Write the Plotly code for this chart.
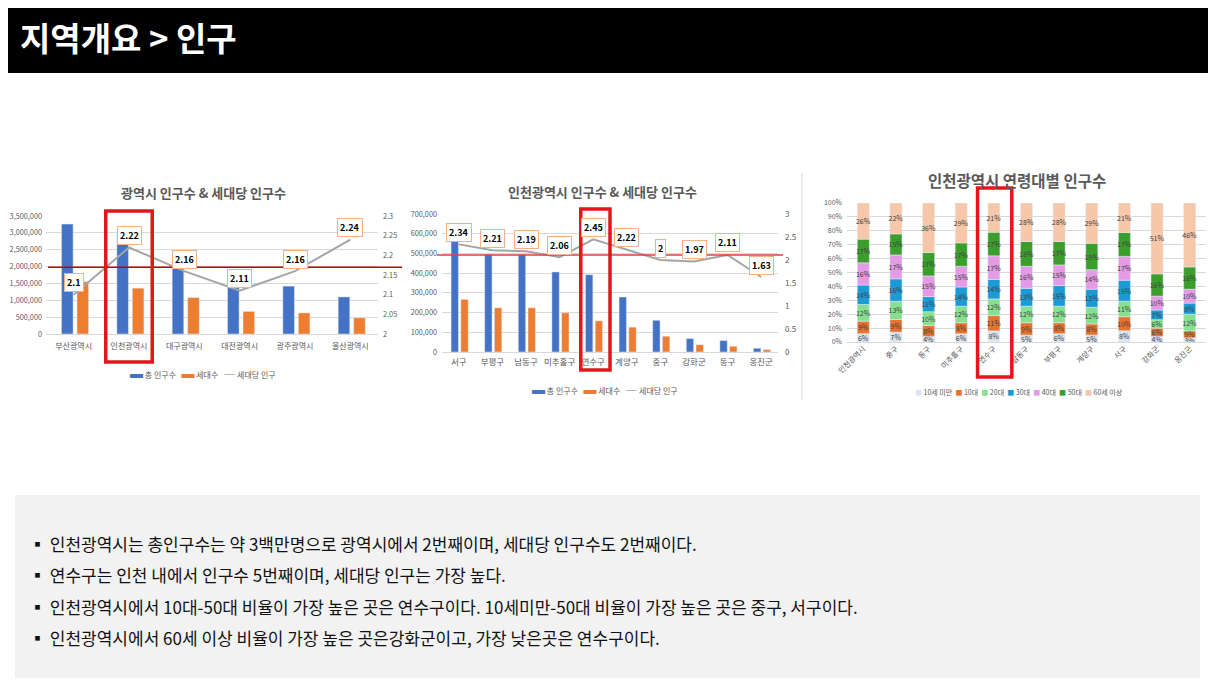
import numpy as np
import plotly.graph_objects as go

# 페이지 기본 여백(8px)을 감안해 그림 크기를 맞춤
PAGE_PAD = 8
W, H = 1216 - PAGE_PAD, 684 - PAGE_PAD
FONT = "Noto Sans CJK KR"

# 광역시 인구수 & 세대당 인구수
metro_names = ["부산광역시", "인천광역시", "대구광역시", "대전광역시", "광주광역시", "울산광역시"]
metro_pop = [3260000, 2990000, 2350000, 1480000, 1420000, 1100000]
metro_hh = [1550000, 1360000, 1080000, 670000, 625000, 480000]
metro_pph = [2.1, 2.22, 2.16, 2.11, 2.16, 2.24]

# 인천광역시 구·군별 인구수 & 세대당 인구수
gu_names = ["서구", "부평구", "남동구", "미추홀구", "연수구", "계양구", "중구", "강화군", "동구", "옹진군"]
gu_pop = [574000, 494000, 494000, 406000, 392000, 279000, 161000, 68000, 58000, 19000]
gu_hh = [267000, 224000, 224000, 199000, 158000, 126000, 80000, 37000, 29000, 12000]
gu_pph = [2.34, 2.21, 2.19, 2.06, 2.45, 2.22, 2.0, 1.97, 2.11, 1.63]

# 인천광역시 연령대별 인구 비율 (%)
age_areas = ["인천광역시", "중구", "동구", "미추홀구", "연수구", "남동구", "부평구", "계양구", "서구", "강화군", "옹진군"]
age_groups = ["10세 미만", "10대", "20대", "30대", "40대", "50대", "60세 이상"]
age_colors = ["#dbe5f1", "#e8722c", "#86e08f", "#1b9ad6", "#e49be6", "#3b9e2c", "#f7c7a9"]
age_share = [
    [6, 7, 4, 6, 8, 5, 6, 5, 8, 4, 3],          # 10세 미만
    [9, 9, 8, 8, 11, 9, 8, 8, 10, 6, 5],        # 10대
    [12, 13, 10, 12, 12, 12, 12, 12, 11, 6, 12],  # 20대
    [14, 16, 11, 14, 14, 13, 15, 13, 15, 7, 8],   # 30대
    [16, 17, 15, 15, 17, 16, 15, 14, 17, 10, 10],  # 40대
    [17, 15, 17, 17, 17, 18, 17, 19, 17, 16, 16],  # 50대
    [26, 22, 36, 29, 21, 28, 28, 29, 21, 51, 46],  # 60세 이상
]

notes = [
    "인천광역시는 총인구수는 약 3백만명으로 광역시에서 2번째이며, 세대당 인구수도 2번째이다.",
    "연수구는 인천 내에서 인구수 5번째이며, 세대당 인구는 가장 높다.",
    "인천광역시에서 10대-50대 비율이 가장 높은 곳은 연수구이다. 10세미만-50대 비율이 가장 높은 곳은 중구, 서구이다.",
    "인천광역시에서 60세 이상 비율이 가장 높은 곳은강화군이고, 가장 낮은곳은 연수구이다.",
]

BLUE, ORANGE, GRAY = "#4472c4", "#ed7d31", "#a5a5a5"
TICK = "#595959"


def px(x):
    return (x - PAGE_PAD) / W


def py(y):
    return 1 - (y - PAGE_PAD) / H


fig = go.Figure()

# 차트 1
fig.add_trace(go.Bar(x=metro_names, y=metro_pop, name="총 인구수", marker_color=BLUE,
                     width=0.21, offset=-0.22, xaxis="x", yaxis="y"))
fig.add_trace(go.Bar(x=metro_names, y=metro_hh, name="세대수", marker_color=ORANGE,
                     width=0.21, offset=0.06, xaxis="x", yaxis="y"))
fig.add_trace(go.Scatter(x=metro_names, y=metro_pph, name="세대당 인구", mode="lines",
                         line=dict(color=GRAY, width=2), xaxis="x", yaxis="y2"))

# 차트 2
fig.add_trace(go.Bar(x=gu_names, y=gu_pop, name="총 인구수", marker_color=BLUE,
                     width=0.22, offset=-0.23, xaxis="x2", yaxis="y3"))
fig.add_trace(go.Bar(x=gu_names, y=gu_hh, name="세대수", marker_color=ORANGE,
                     width=0.22, offset=0.06, xaxis="x2", yaxis="y3"))
fig.add_trace(go.Scatter(x=gu_names, y=gu_pph, name="세대당 인구", mode="lines",
                         line=dict(color=GRAY, width=2), xaxis="x2", yaxis="y4"))

# 차트 3 - 100% 누적 막대
share = np.array(age_share, dtype=float)
share = share / share.sum(axis=0) * 100
base = np.vstack([np.zeros(share.shape[1]), np.cumsum(share, axis=0)[:-1]])
for i, grp in enumerate(age_groups):
    fig.add_trace(go.Bar(
        x=age_areas, y=share[i], base=base[i], name=grp, marker_color=age_colors[i],
        width=0.37, text=[f"{v}%" for v in age_share[i]], textposition="inside",
        insidetextanchor="middle", constraintext="none", textangle=0,
        textfont=dict(size=7, color="#404040", family=FONT),
        xaxis="x3", yaxis="y5"))

axis_font = dict(size=8, color=TICK, family=FONT)
value_font = dict(size=7.3, color=TICK, family=FONT)
grid = dict(showgrid=True, gridcolor="#d9d9d9", zeroline=True, zerolinecolor="#d9d9d9",
            zerolinewidth=1, ticks="", automargin=False)

fig.update_layout(
    width=W, height=H, margin=dict(l=0, r=0, t=0, b=0, autoexpand=False),
    paper_bgcolor="white", plot_bgcolor="rgba(0,0,0,0)",
    barmode="overlay", showlegend=False,
    font=dict(family=FONT, color=TICK),
    xaxis=dict(domain=[px(46), px(378)], anchor="y", type="category", showgrid=False,
               tickfont=axis_font, ticklabelstandoff=6, automargin=False),
    yaxis=dict(domain=[py(334), py(216)], anchor="x", range=[0, 3500000], dtick=500000,
               tickformat=",", ticklabelstandoff=3, tickfont=value_font, **grid),
    yaxis2=dict(overlaying="y", side="right", anchor="x", range=[2, 2.3], dtick=0.05,
                showgrid=False, zeroline=False, tickfont=value_font, ticklabelstandoff=4,
                automargin=False),
    xaxis2=dict(domain=[px(442), px(778)], anchor="y3", type="category", showgrid=False,
                tickfont=dict(size=8.5, color=TICK, family=FONT), ticklabelstandoff=3,
                automargin=False),
    yaxis3=dict(domain=[py(352), py(214)], anchor="x2", range=[0, 700000], dtick=100000,
                tickformat=",", ticklabelstandoff=4, tickfont=value_font, **grid),
    yaxis4=dict(overlaying="y3", side="right", anchor="x2", range=[0, 3], dtick=0.5,
                showgrid=False, zeroline=False, tickfont=axis_font, ticklabelstandoff=6,
                automargin=False),
    xaxis3=dict(domain=[px(847), px(1206)], anchor="y5", type="category", showgrid=False,
                tickangle=-45, tickfont=dict(size=7.5, color=TICK, family=FONT),
                automargin=False),
    yaxis5=dict(domain=[py(342), py(203)], anchor="x3", range=[0, 100], dtick=10,
                ticksuffix="%", ticklabelstandoff=4,
                tickfont=dict(size=7, color=TICK, family=FONT), **grid),
)

shapes = [
    # 헤더 바
    dict(type="rect", xref="paper", yref="paper", x0=0, x1=1, y0=py(73), y1=1,
         fillcolor="black", line_width=0, layer="below"),
    # 하단 설명 박스
    dict(type="rect", xref="paper", yref="paper", x0=px(15), x1=px(1200), y0=py(678), y1=py(495),
         fillcolor="#f2f2f2", line_width=0, layer="below"),
    # 구분선
    dict(type="line", xref="paper", yref="paper", x0=px(802), x1=px(802), y0=py(400), y1=py(173),
         line=dict(color="#d9d9d9", width=1)),
    # 기준선
    dict(type="line", xref="paper", yref="y2", x0=px(48), x1=px(402), y0=2.17, y1=2.17,
         line=dict(color="#c00000", width=1.5)),
    dict(type="line", xref="paper", yref="y4", x0=px(437), x1=px(783), y0=2.11, y1=2.11,
         line=dict(color="#e0403a", width=1.5)),
    # 강조 박스
    dict(type="rect", xref="x", yref="paper", x0=0.58, x1=1.42, y0=py(362), y1=py(211),
         line=dict(color="#e8141b", width=3.5)),
    dict(type="rect", xref="x2", yref="paper", x0=3.63, x1=4.5, y0=py(370), y1=py(209),
         line=dict(color="#e8141b", width=3.5)),
    dict(type="rect", xref="x3", yref="paper", x0=3.5, x1=4.55, y0=py(377), y1=py(188),
         line=dict(color="#e8141b", width=3.5)),
]

center = dict(xref="paper", yref="paper", xanchor="center", yanchor="middle", showarrow=False)
annotations = [
    dict(xref="paper", yref="paper", x=px(18), y=py(37), xanchor="left", yanchor="middle",
         text="<b>지역개요 > 인구</b>", font=dict(size=33, color="white", family=FONT), showarrow=False),
    dict(x=px(203), y=py(192), text="<b>광역시 인구수 & 세대당 인구수</b>",
         font=dict(size=13, color=TICK, family=FONT), **center),
    dict(x=px(602), y=py(191), text="<b>인천광역시 인구수 & 세대당 인구수</b>",
         font=dict(size=13, color=TICK, family=FONT), **center),
    dict(x=px(1017), y=py(180), text="<b>인천광역시 연령대별 인구수</b>",
         font=dict(size=15.5, color=TICK, family=FONT), **center),
]

# 세대당 인구 데이터 레이블
label_style = dict(showarrow=False, bgcolor="white", bordercolor="#f4b183", borderwidth=1,
                   borderpad=2, yshift=12, xanchor="center", yanchor="middle",
                   font=dict(size=9, color="black", family=FONT))
for name, v in zip(metro_names, metro_pph):
    annotations.append(dict(xref="x", yref="y2", x=name, y=v, text=f"<b>{v:g}</b>", **label_style))
for name, v in zip(gu_names, gu_pph):
    annotations.append(dict(xref="x2", yref="y4", x=name, y=v, text=f"<b>{v:g}</b>", **label_style))

# 범례
bar_leg = "<span style='color:{c};font-size:13px'>▬</span> {t}"
line_leg = "<span style='color:{c};font-size:13px'>—</span> {t}"
legend12 = "   ".join([bar_leg.format(c=BLUE, t="총 인구수"), bar_leg.format(c=ORANGE, t="세대수"),
                       line_leg.format(c=GRAY, t="세대당 인구")])
annotations.append(dict(x=px(203), y=py(372), text=legend12,
                        font=dict(size=8, color=TICK, family=FONT), **center))
annotations.append(dict(x=px(605), y=py(388), text=legend12,
                        font=dict(size=8, color=TICK, family=FONT), **center))
legend3 = "  ".join(f"<span style='color:{c}'>■</span> {g}" for g, c in zip(age_groups, age_colors))
annotations.append(dict(x=px(1019), y=py(392), text=legend3,
                        font=dict(size=7, color=TICK, family=FONT), **center))

# 하단 설명 문구
for i, line in enumerate(notes):
    annotations.append(dict(xref="paper", yref="paper", x=px(27), y=py(543 + i * 31.5),
                            xanchor="left", yanchor="middle", text="▪ " + line, showarrow=False,
                            font=dict(size=17, color="#111111", family=FONT)))

fig.update_layout(shapes=shapes, annotations=annotations)

fig.write_html("out.html")
